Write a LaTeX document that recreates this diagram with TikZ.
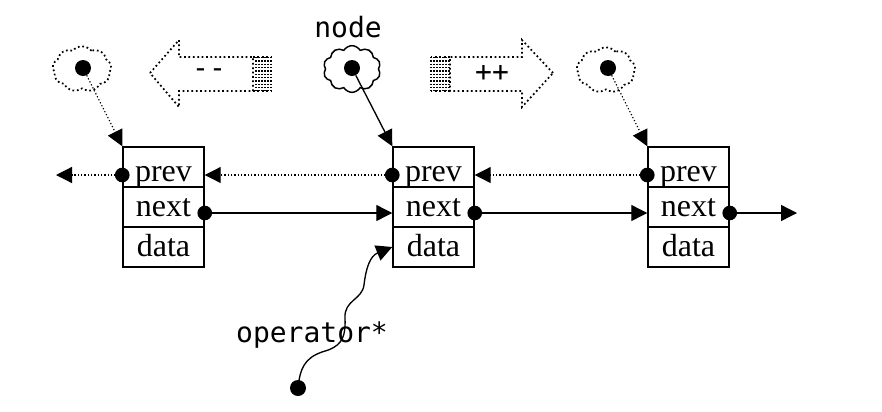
\documentclass[tikz,border=0pt]{standalone}
\usepackage{fontspec}
\setmainfont{Liberation Serif}
\newfontfamily\monof{DejaVu Sans Mono}
\usetikzlibrary{arrows.meta,shapes.symbols,calc}
\begin{document}
\begin{tikzpicture}[x=0.75pt,y=-0.75pt,
  row/.style={draw,line width=1.1pt,minimum width=60.75pt,minimum height=30pt,inner sep=0pt,
    text height=21pt,text depth=7pt,font=\fontsize{24}{25}\selectfont},
  lowrow/.style={row,text height=25pt,text depth=3pt},
  dot/.style={circle,fill,inner sep=0pt,minimum size=11pt},
  tip/.style={-{Triangle[length=12pt,width=12pt]}},
  dots/.style={line width=0.9pt,dash pattern=on 0.9pt off 1.6pt},
  bigdots/.style={line width=1.3pt,dash pattern=on 1.3pt off 2pt},
  solidline/.style={line width=1pt},
  mono/.style={font=\monof\fontsize{21}{22}\selectfont,inner sep=0pt},
  dcloud/.style={cloud,draw,cloud puffs=9,cloud puff arc=100,aspect=1.25,
    minimum width=44pt,minimum height=34pt,inner sep=0pt},
]
\useasboundingbox (0,0) rectangle (882,411);

% list nodes
\foreach \i/\x in {1/163.5,2/433.5,3/688.5}{
  \node[lowrow] (p\i) at (\x,167) {prev};
  \node[row] (n\i) at (\x,207) {next};
  \node[row] (d\i) at (\x,247) {data};
}

% connection points
\foreach \i in {1,2,3}{
  \coordinate (pl\i) at ($(p\i.west)+(0,8)$);
  \coordinate (pr\i) at ($(p\i.east)+(0,8)$);
  \coordinate (nl\i) at ($(n\i.west)+(0,6)$);
  \coordinate (nr\i) at ($(n\i.east)+(0,6)$);
}
\coordinate (lend) at (56,175);
\coordinate (rend) at (797,213);

% prev links (dotted)
\draw[dots,tip] (pl1) -- (lend);
\draw[dots,tip] (pl2) -- (pr1);
\draw[dots,tip] (pl3) -- (pr2);
% next links (solid)
\draw[solidline,tip] (nr1) -- (nl2);
\draw[solidline,tip] (nr2) -- (nl3);
\draw[solidline,tip] (nr3) -- (rend);

% top iterators
\node[dcloud,bigdots] (cl) at (82,69) {};
\node[cloud,draw,cloud puffs=10,cloud puff arc=120,aspect=1.2,minimum width=43pt,
  minimum height=35pt,inner sep=0pt,line width=1.1pt] (cm) at (352,69) {};
\node[dcloud,bigdots] (cr) at (606,70) {};
\node[dot,minimum size=12pt] (tl) at (83,68) {};
\node[dot,minimum size=12pt] (tm) at (352,68) {};
\node[dot,minimum size=12pt] (tr) at (608,68) {};
\draw[dots,tip] (tl) -- (p1.north west);
\draw[solidline,tip] (tm) -- (p2.north west);
\draw[dots,tip] (tr) -- (p3.north west);

\node[mono,anchor=base] (lbnode) at (348,37) {node};

% big arrows
\draw[bigdots] (150,73) -- (179,40) -- (179,57) -- (253,57) -- (253,91) -- (179,91) -- (179,107) -- cycle;
\draw[bigdots] (253,57) -- (271,57) (253,91) -- (271,91);
\foreach \x in {256,259,...,271} \draw[dots] (\x,57) -- (\x,91);
\node[mono] (mm) at (209,73) {-\kern0pt-};

\draw[bigdots] (553,73) -- (522,40) -- (522,57) -- (450,57) -- (450,91) -- (522,91) -- (522,107) -- cycle;
\draw[bigdots] (450,57) -- (431,57) (450,91) -- (431,91);
\foreach \x in {431,434,...,449} \draw[dots] (\x,57) -- (\x,91);
\node[mono] (pp) at (492,73) {++};

% dots on the list
\foreach \i in {1,2,3}{
  \node[dot] (pd\i) at (pl\i) {};
  \node[dot] (nd\i) at (nr\i) {};
}

% operator*
\node[mono,anchor=base] (op) at (312,342) {operator*};
\node[dot,minimum size=12pt] (od) at (298,388) {};
\draw[solidline,tip] (od.center) .. controls (300,368) and (305,358) .. (322,352)
  .. controls (340,347) and (346,340) .. (345,318)
  .. controls (344,300) and (362,300) .. (364,285)
  .. controls (366,268) and (370,256) .. (d2.west);
\end{tikzpicture}
\end{document}
